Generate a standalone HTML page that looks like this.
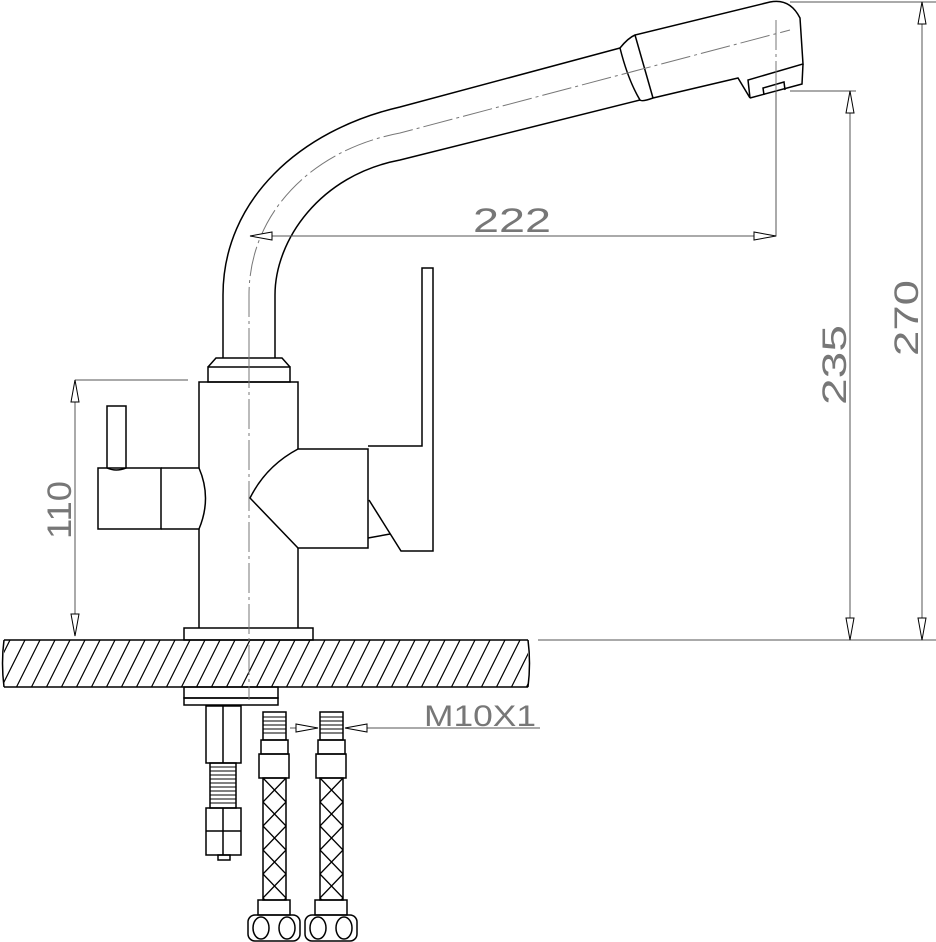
<!DOCTYPE html>
<html><head><style>html,body{margin:0;padding:0;background:#fff}svg{display:block}</style></head><body>
<svg width="936" height="942" viewBox="0 0 936 942" xmlns="http://www.w3.org/2000/svg" font-family="Liberation Sans, sans-serif">
<defs>
<clipPath id="cc"><rect x="4" y="640" width="524" height="47"/></clipPath>
<pattern id="cross" x="263" y="778" width="23" height="24" patternUnits="userSpaceOnUse"><path d="M0 0L23 24M23 0L0 24" stroke="#000" stroke-width="1.3"/></pattern>
</defs>
<g fill="none" stroke="#000" stroke-width="1.5">
<path d="M4 640H528M4 687H528M4 640Q1 663 4 687M528 640Q531 663 528 687"/>
<g clip-path="url(#cc)" stroke-width="1.2">
<path d="M-20 700L12 636M-5 700L27 636M10 700L42 636M25 700L57 636M40 700L72 636M55 700L87 636M70 700L102 636M85 700L117 636M100 700L132 636M115 700L147 636M130 700L162 636M145 700L177 636M160 700L192 636M175 700L207 636M190 700L222 636M205 700L237 636M220 700L252 636M235 700L267 636M250 700L282 636M265 700L297 636M280 700L312 636M295 700L327 636M310 700L342 636M325 700L357 636M340 700L372 636M355 700L387 636M370 700L402 636M385 700L417 636M400 700L432 636M415 700L447 636M430 700L462 636M445 700L477 636M460 700L492 636M475 700L507 636M490 700L522 636M505 700L537 636M520 700L552 636"/>
</g>
<rect x="184" y="628" width="129" height="12"/>
<path d="M199 628V529M199 468V382H298V449M298 548V628"/>
<rect x="208" y="367" width="82" height="15"/>
<path d="M208 367L216 358H282L290 367"/>
<path d="M223 358V295C223 200 300 130 400 107L620 48"/>
<path d="M275 358V295C275 240 320 175 400 160L640 100"/>
<path d="M620 48Q628 38 635 35L770 2Q790 -2 800 18L803 64L748 80L750 98L738 78L653 98Q642 102 640 100Q628 80 620 48Z"/>
<path d="M635 35L653 98"/>
<path d="M803 64L802 84L750 98"/>
<path d="M764 95L763 88L784 82L785 90"/>
<rect x="98" y="468" width="63" height="61"/>
<path d="M161 468H199Q212 498 199 529H161"/>
<path d="M107 468V406H126V468Q116 472 107 468"/>
<path d="M298 449H368V548H298L250 498Q266 466 298 449"/>
<path d="M368 446H422V268H433V551H401L369 500M368 538L390 534"/>
<rect x="184" y="687" width="94" height="11"/>
<rect x="184" y="698" width="94" height="7"/>
<rect x="206" y="706" width="35" height="57"/>
<path d="M223 706V763"/>
<rect x="210" y="763" width="26" height="45"/>
<rect x="206" y="808" width="35" height="47"/>
<path d="M223 808V855M206 831H241"/>
<rect x="218" y="855" width="12" height="5"/>
</g>
<g stroke="#000" stroke-width="1"><path d="M210 767H236M210 771H236M210 775H236M210 779H236M210 783H236M210 787H236M210 791H236M210 795H236M210 799H236M210 803H236"/></g>
<g id="h" fill="none" stroke="#000" stroke-width="1.5">
<rect x="263" y="712" width="23" height="28"/>
<path d="M263 717H286M263 721H286M263 725H286M263 729H286M263 733H286" stroke-width="1"/>
<rect x="261" y="740" width="27" height="14"/>
<rect x="259" y="754" width="30" height="24"/>
<rect x="263" y="778" width="23" height="122" fill="url(#cross)"/>
<rect x="258" y="900" width="32" height="15"/>
<rect x="248" y="915" width="52" height="26" rx="7"/>
<ellipse cx="261" cy="928" rx="8" ry="11"/>
<ellipse cx="287" cy="928" rx="8" ry="11"/>
</g>
<use href="#h" x="57"/>
<g stroke="#777" stroke-width="1" fill="none" stroke-dasharray="30 4 3 4">
<path d="M249 358V700"/>
<path d="M249 358V295C249 215 310 150 400 133L790 30"/>
<path d="M776 20V98"/>
</g>
<g stroke="#555" stroke-width="1" fill="none">
<path d="M250 236H776V91M790 91H856M850 91V640M538 640H936M790 2H936M922 2V640M75 380H188M75 380V636M345 728H540M290 728H318"/>
</g>
<g fill="#fff" stroke="#000" stroke-width="1">
<path d="M250 236L272 232V240Z"/><path d="M776 236L754 232V240Z"/>
<path d="M850 91L846 113H854Z"/><path d="M850 640L846 618H854Z"/>
<path d="M922 2L918 24H926Z"/><path d="M922 640L918 618H926Z"/>
<path d="M75 380L71 402H79Z"/><path d="M75 636L71 614H79Z"/>
<path d="M318 728L296 724V732Z"/>
<path d="M345 728L367 724V732Z"/>
</g>
<g fill="#777" font-size="34" text-anchor="middle">
<text x="512" y="232" textLength="78" lengthAdjust="spacingAndGlyphs">222</text>
<text transform="translate(846 365) rotate(-90)" textLength="80" lengthAdjust="spacingAndGlyphs">235</text>
<text transform="translate(918 318) rotate(-90)" textLength="76" lengthAdjust="spacingAndGlyphs">270</text>
<text transform="translate(71 510) rotate(-90)" textLength="58" lengthAdjust="spacingAndGlyphs">110</text>
<text x="480" y="726" font-size="30" textLength="112" lengthAdjust="spacingAndGlyphs">M10X1</text>
</g>
</svg>
</body></html>
